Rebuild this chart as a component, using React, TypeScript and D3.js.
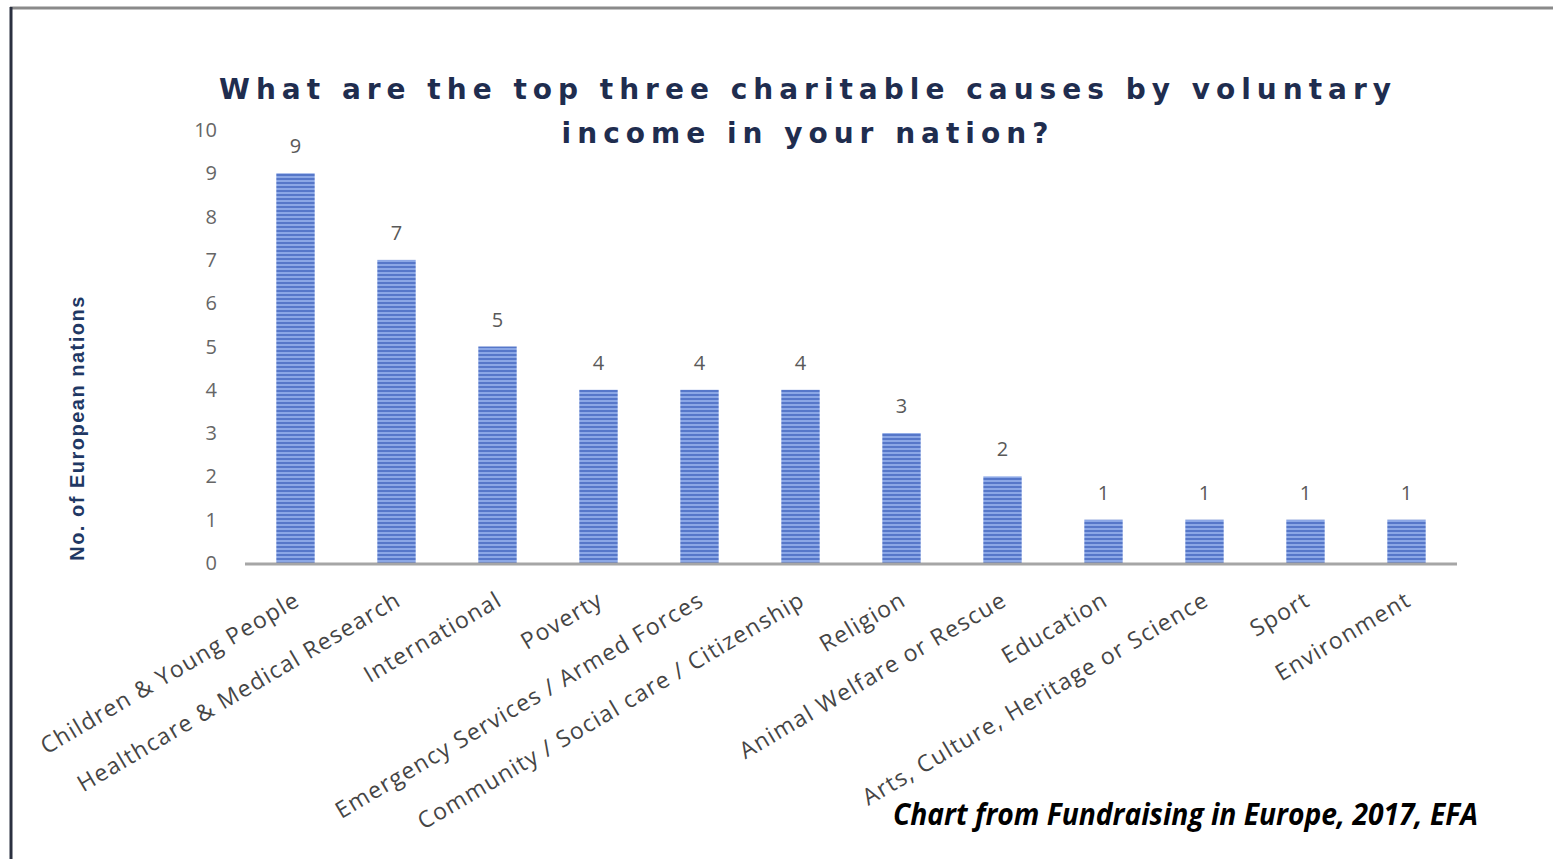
import React from "react";
import * as d3 from "d3";

const categories = [
  "Children & Young People",
  "Healthcare & Medical Research",
  "International",
  "Poverty",
  "Emergency Services / Armed Forces",
  "Community / Social care / Citizenship",
  "Religion",
  "Animal Welfare or Rescue",
  "Education",
  "Arts, Culture, Heritage or Science",
  "Sport",
  "Environment",
];
const values = [9, 7, 5, 4, 4, 4, 3, 2, 1, 1, 1, 1];
const yTicks = [0, 1, 2, 3, 4, 5, 6, 7, 8, 9, 10];
const titleLines = [
  "What are the top three charitable causes by voluntary",
  "income in your nation?",
];
const yAxisTitle = "No. of European nations";
const footer = "Chart from Fundraising in Europe, 2017, EFA";

const W = 1553;
const H = 859;

export default function App() {
  const x = d3
    .scaleBand<string>()
    .domain(categories)
    .range([245, 1457])
    .paddingInner(0.62)
    .paddingOuter(0.31);
  const y = d3.scaleLinear().domain([0, 10]).range([563, 130]);
  const labelFont = "'Open Sans', 'Noto Sans', sans-serif";

  return (
    <svg
      width={W}
      height={H}
      style={{ position: "absolute", left: 0, top: 0, background: "#fff" }}
    >
      <defs>
        <pattern id="stripes" width="6" height="4" patternUnits="userSpaceOnUse">
          <rect width="6" height="4" fill="#8ba7e6" />
          <rect y="2" width="6" height="2" fill="#5677c9" />
        </pattern>
      </defs>
      <rect x={0} y={0} width={W} height={H} fill="#ffffff" />
      {/* frame */}
      <line x1={10} x2={W} y1={8} y2={8} stroke="#8a8a8a" strokeWidth={3} />
      <line x1={11} x2={11} y1={7} y2={H} stroke="#2b3040" strokeWidth={3} />

      {/* title */}
      {titleLines.map((t, i) => (
        <text
          key={i}
          x={808}
          y={99 + i * 44}
          textAnchor="middle"
          fontFamily="'DejaVu Sans', Verdana, sans-serif"
          fontWeight="bold"
          fontSize={28}
          letterSpacing={6}
          fill="#1f2d4f"
        >
          {t}
        </text>
      ))}

      {/* y axis title */}
      <text
        transform={`translate(84, 428) rotate(-90)`}
        textAnchor="middle"
        fontFamily="'Liberation Sans', Arial, sans-serif"
        fontWeight="bold"
        fontSize={20}
        letterSpacing={1.5}
        fill="#1f3864"
      >
        {yAxisTitle}
      </text>

      {/* y ticks */}
      {yTicks.map((t) => (
        <text
          key={t}
          x={217}
          y={y(t)}
          dy="0.35em"
          textAnchor="end"
          fontFamily={labelFont}
          fontSize={20}
          fill="#666666"
        >
          {t}
        </text>
      ))}

      {/* bars */}
      {categories.map((c, i) => (
        <rect
          key={c}
          x={x(c)}
          y={y(values[i])}
          width={x.bandwidth()}
          height={y(0) - y(values[i])}
          fill="url(#stripes)"
        />
      ))}

      {/* axis line */}
      <line x1={245} x2={1457} y1={y(0) + 1} y2={y(0) + 1} stroke="#a6a6a6" strokeWidth={3} />

      {/* value labels */}
      {categories.map((c, i) => (
        <text
          key={c}
          x={(x(c) ?? 0) + x.bandwidth() / 2}
          y={y(values[i]) - 20}
          textAnchor="middle"
          fontFamily={labelFont}
          fontSize={20}
          fill="#595959"
        >
          {values[i]}
        </text>
      ))}

      {/* x labels */}
      {categories.map((c) => {
        const cx = (x(c) ?? 0) + x.bandwidth() / 2;
        return (
          <text
            key={c}
            transform={`translate(${cx - 3}, ${589}) rotate(-30.5)`}
            textAnchor="end"
            dy="0.78em"
            fontFamily={labelFont}
            fontSize={23}
            letterSpacing={1.3}
            fill="#454545"
          >
            {c}
          </text>
        );
      })}

      {/* footer */}
      <text
        x={893}
        y={825}
        fontFamily="'Open Sans', 'Noto Sans', sans-serif"
        fontWeight="bold"
        fontStyle="italic"
        fontSize={30}
        textLength={585}
        lengthAdjust="spacingAndGlyphs"
        fill="#000"
      >
        {footer}
      </text>
    </svg>
  );
}
